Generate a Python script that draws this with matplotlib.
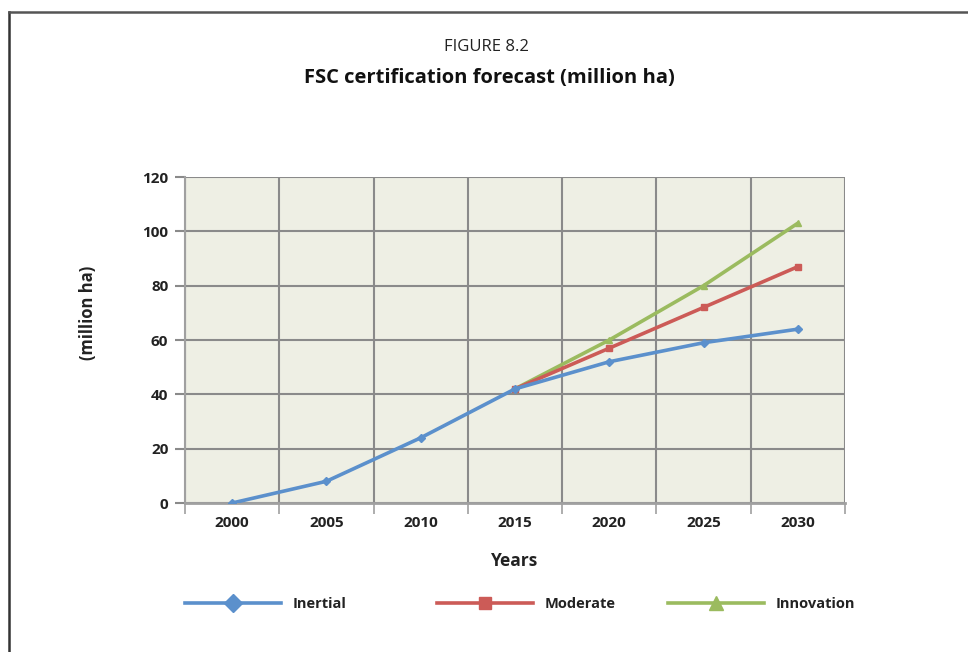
import matplotlib.pyplot as plt
from matplotlib.lines import Line2D
import numpy as np

years = ['2000', '2005', '2010', '2015', '2020', '2025', '2030']
inertial = [0, 8, 24, 42, 52, 59, 64]
moderate = [None, None, None, 42, 57, 72, 87]
innovation = [None, None, None, 42, 60, 80, 103]

blue = '#5B90CC'
red = '#CC5B57'
green = '#9BBB5F'

plt.rcParams['font.family'] = ['Open Sans', 'DejaVu Sans']

fig = plt.figure(figsize=(9.68, 6.52), dpi=100)
ax = fig.add_axes([0.1911, 0.2285, 0.6818, 0.5])

x = np.arange(len(years))


def to_arr(vals):
    return np.array([np.nan if v is None else v for v in vals], dtype=float)


ax.plot(x, to_arr(innovation), color=green, lw=2.6, marker='^', ms=5, zorder=3)
ax.plot(x, to_arr(moderate), color=red, lw=2.6, marker='s', ms=4, zorder=4)
ax.plot(x, to_arr(inertial), color=blue, lw=2.6, marker='D', ms=4, zorder=5)

ax.set_xlim(-0.5, len(years) - 0.5)
ax.set_ylim(0, 120)
ax.set_facecolor('#EEEFE4')

ax.set_xticks(x)
ax.set_xticklabels(years, fontsize=11, fontweight='bold', color='#222222')
ax.set_xticks(np.arange(-0.5, len(years)), minor=True)
ax.tick_params(axis='x', which='major', length=0, pad=9)
ax.tick_params(axis='x', which='minor', length=8, color='#A0A0A0', width=1.2)
ax.set_yticks(np.arange(0, 121, 20))
ax.set_yticklabels([str(v) for v in range(0, 121, 20)], fontsize=11,
                   fontweight='bold', color='#222222')
ax.tick_params(axis='y', length=7, color='#8A8A8A', width=1.5, pad=5)

ax.grid(True, which='minor', axis='x', color='#8A8A8A', lw=1.5)
ax.grid(True, which='major', axis='y', color='#8A8A8A', lw=1.5)
ax.set_axisbelow(True)
for s in ['top', 'right']:
    ax.spines[s].set_visible(False)
ax.spines['left'].set_color('#A0A0A0')
ax.spines['left'].set_linewidth(1.5)
ax.spines['bottom'].set_color('#A0A0A0')
ax.spines['bottom'].set_linewidth(2)

ax.set_xlabel('Years', fontsize=12.5, fontweight='bold', color='#222222', labelpad=16)
fig.text(0.091, 0.52, '(million ha)', rotation=90, ha='center', va='center',
         fontsize=12, fontweight='bold', color='#222222')

fig.text(0.503, 0.928, 'FIGURE 8.2', ha='center', va='center', fontsize=12, color='#222222')
fig.text(0.506, 0.880, 'FSC certification forecast (million ha)', ha='center',
         va='center', fontsize=14.5, fontweight='bold', color='#111111')

handles = [
    Line2D([], [], color=blue, lw=2.6, marker='D', ms=9),
    Line2D([], [], color=red, lw=2.6, marker='s', ms=9),
    Line2D([], [], color=green, lw=2.6, marker='^', ms=10),
]
labels = ['Inertial', 'Moderate', 'Innovation']
starts = [185, 437, 668]
for h, lab, xs in zip(handles, labels, starts):
    leg = fig.legend([h], [lab], loc='center left', bbox_to_anchor=(xs / 968, 0.074),
                     frameon=False, borderpad=0, borderaxespad=0,
                     handlelength=6.6, handletextpad=0.75,
                     prop={'size': 10.5, 'weight': 'bold'})
    for t in leg.get_texts():
        t.set_color('#222222')

# outer frame
fig.add_artist(Line2D([0.0088, 0.0088], [0, 0.9815], color='#333333', lw=1.8))
fig.add_artist(Line2D([0.0088, 1.0], [0.9815, 0.9815], color='#555555', lw=1.8))

fig.savefig('out.png', dpi=100)
